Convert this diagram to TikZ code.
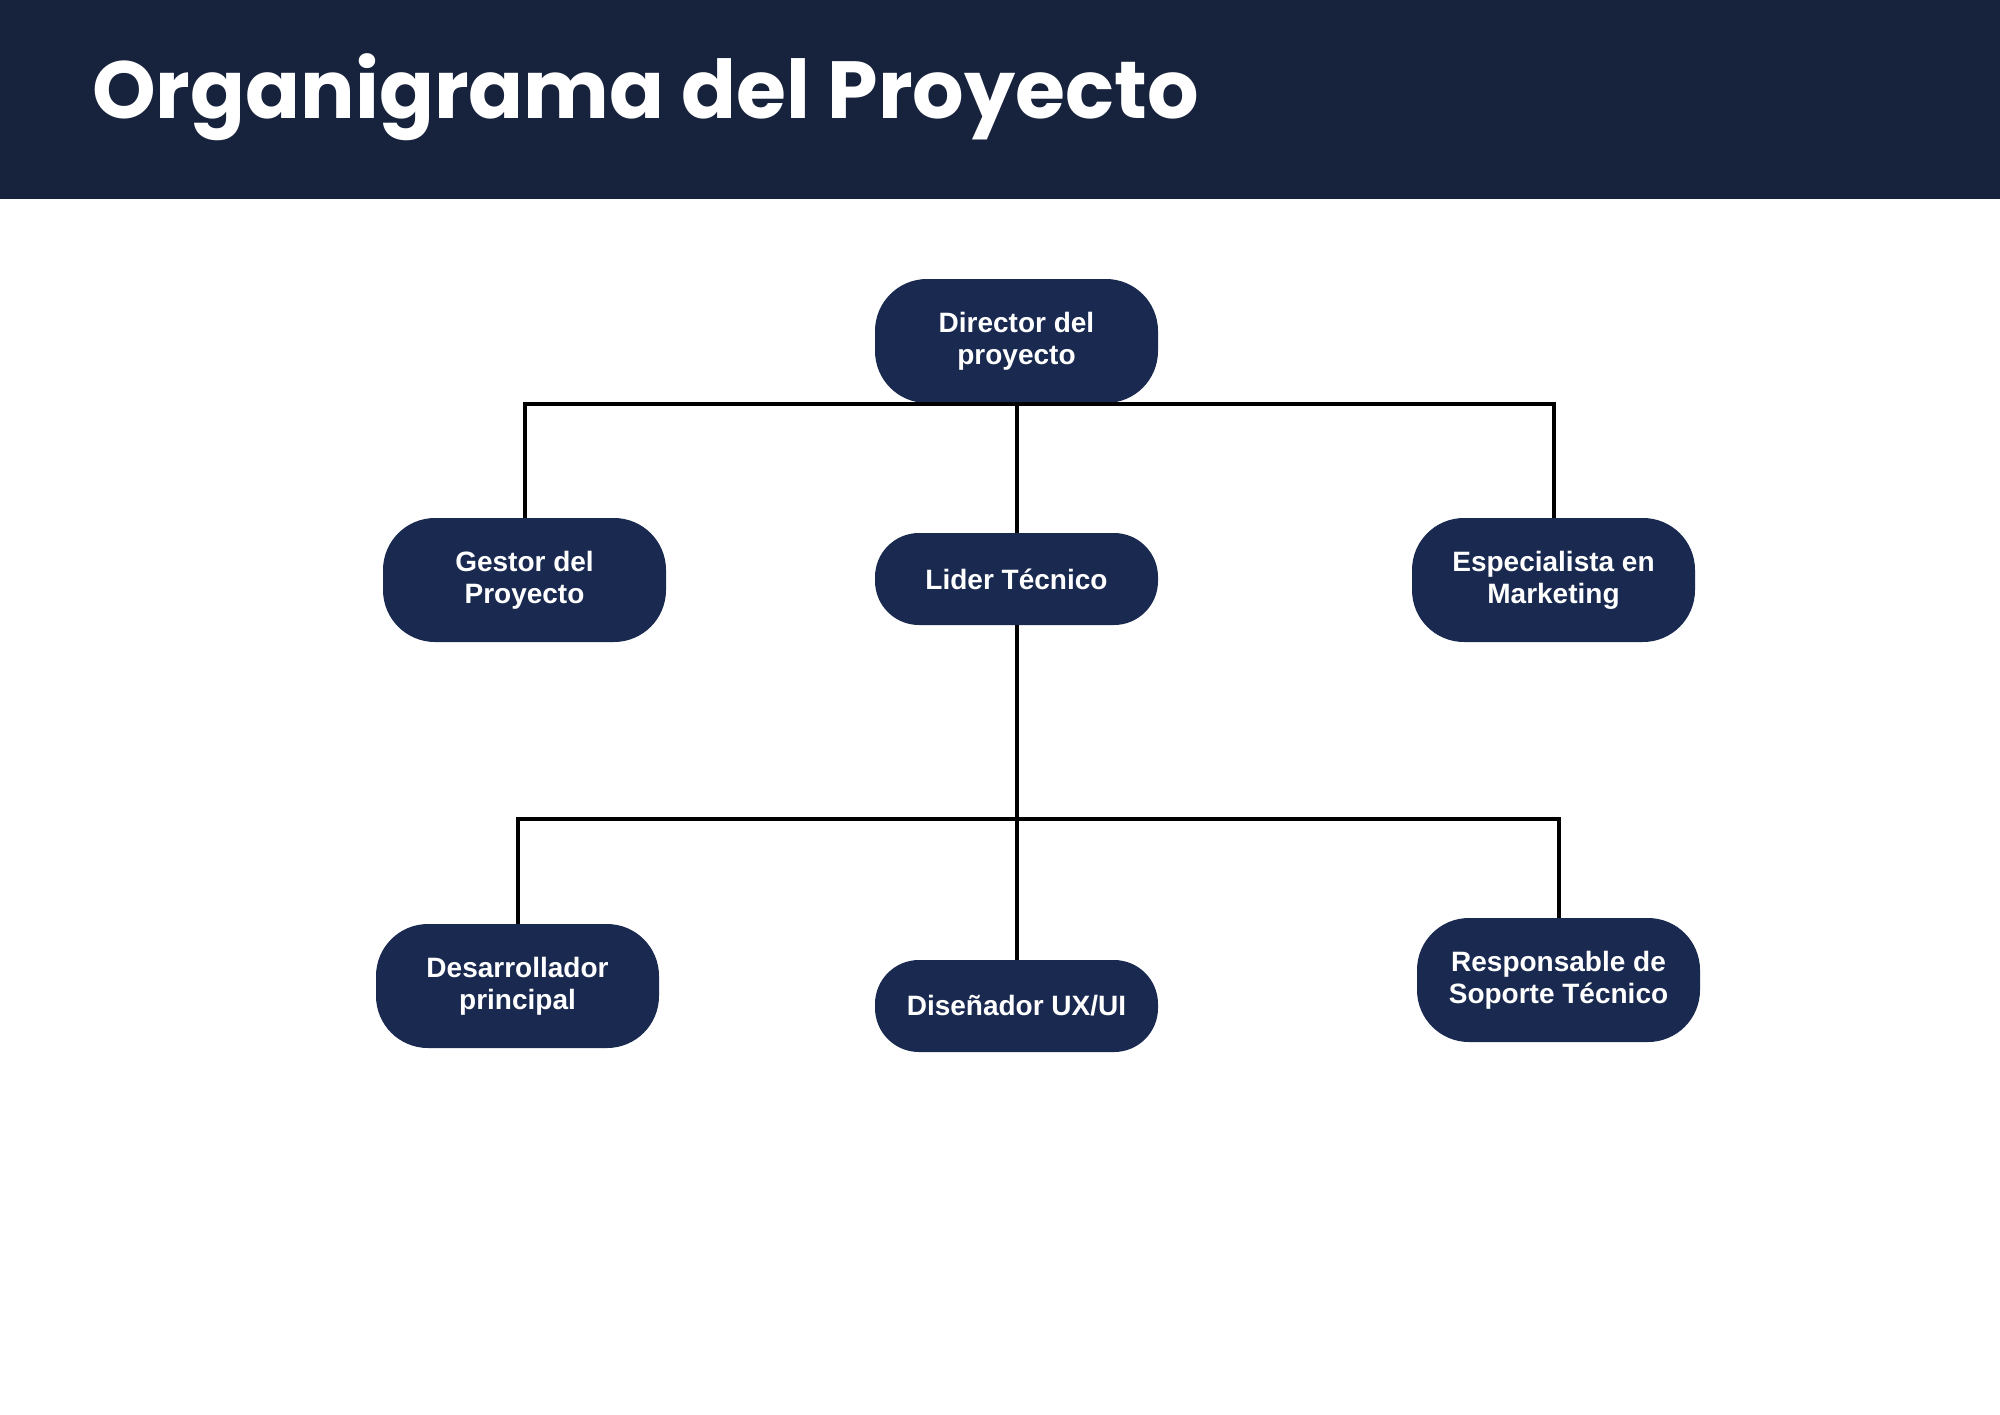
\documentclass[tikz,border=0pt]{standalone}
\usepackage{fontspec}
\setmainfont{Liberation Sans}
\newfontfamily\titlefont{Poppins}
\definecolor{headbg}{HTML}{17223C}
\definecolor{boxbg}{HTML}{192950}
\tikzset{
  orgbox/.style={draw=none, fill=boxbg, text=white, rounded corners=52pt,
    minimum width=283pt, minimum height=124pt, align=center,
    font=\fontsize{28}{32}\selectfont\bfseries, inner sep=0pt},
  smallbox/.style={orgbox, minimum height=92pt, rounded corners=44pt},
  link/.style={draw=black, line width=4pt}
}
\begin{document}
\begin{tikzpicture}[x=1pt,y=-1pt]
\useasboundingbox (0,0) rectangle (2000,1414);
\fill[white] (0,0) rectangle (2000,1414);
\fill[headbg] (0,0) rectangle (2000,199);
\node[anchor=base west, inner sep=0pt, text=white, font=\titlefont\fontsize{81}{92}\selectfont\bfseries] (title) at (92,118) {Organigrama del Proyecto};

\node[orgbox] (dir) at (1016.5,341) {Director del\\proyecto};
\node[orgbox] (ges) at (524.5,580) {Gestor del\\Proyecto};
\node[smallbox] (lt) at (1016.5,579) {Lider Técnico};
\node[orgbox] (esp) at (1553.5,580) {Especialista en\\Marketing};
\node[orgbox] (dev) at (517.5,986) {Desarrollador\\principal};
\node[smallbox] (dis) at (1016.5,1006) {Diseñador UX/UI};
\node[orgbox] (res) at (1558.5,980) {Responsable de\\Soporte Técnico};

\coordinate (bus1) at (1016.5,404);
\coordinate (bus2) at (1016.5,819);

\draw[link] (ges.north) -- (ges.north |- bus1) -- (esp.north |- bus1) -- (esp.north);
\draw[link] (dir.south) -- (lt.north);
\draw[link] (lt.south) -- (dis.north);
\draw[link] (dev.north) -- (dev.north |- bus2) -- (res.north |- bus2) -- (res.north);
\end{tikzpicture}
\end{document}
